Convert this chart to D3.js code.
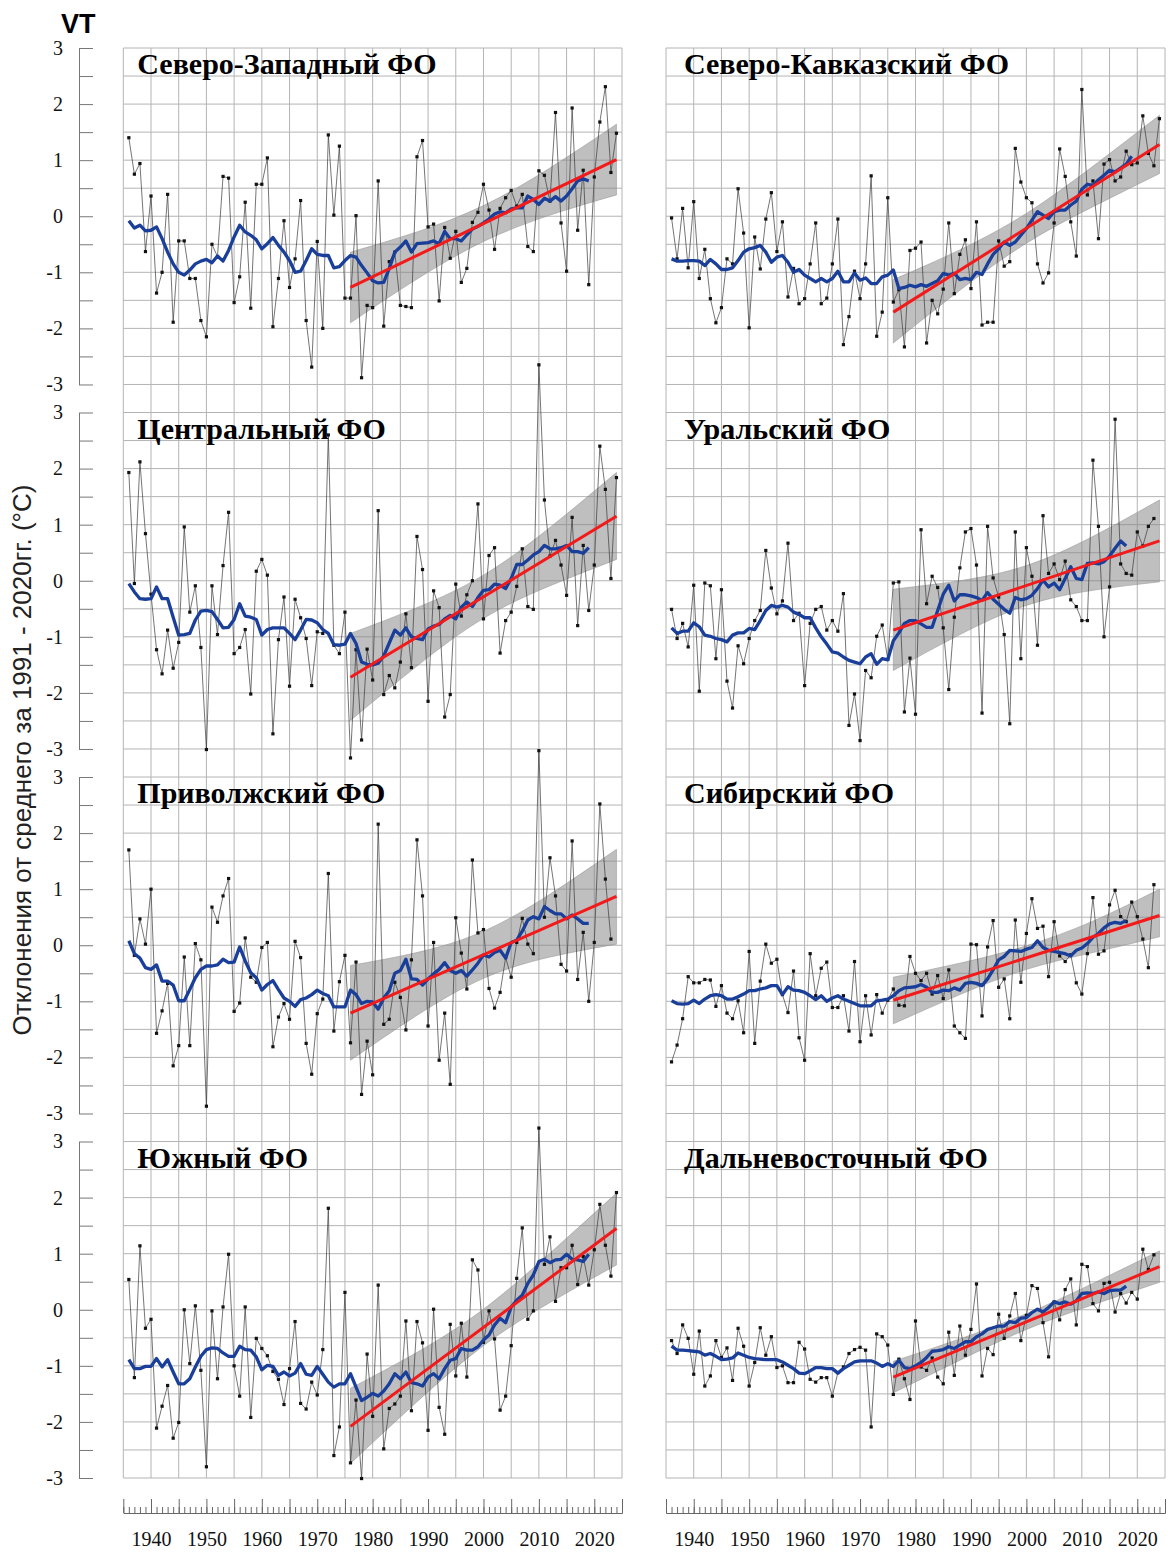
<!DOCTYPE html>
<html>
<head>
<meta charset="utf-8">
<script src="https://cdn.jsdelivr.net/npm/d3@7"></script>
<style>
  body { margin: 0; background: #fff; }
  svg { display: block; }
</style>
</head>
<body>
<svg id="chart" width="1172" height="1555"></svg>
<script>
// years of the annual series start here
var firstYear = 1936;
var trendYears = [1976, 2024];
var bandYears = [1976, 1988, 2000, 2012, 2024];
var yTicks = [-3, -2.5, -2, -1.5, -1, -0.5, 0, 0.5, 1, 1.5, 2, 2.5, 3];
var decadeLabels = [1940, 1950, 1960, 1970, 1980, 1990, 2000, 2010, 2020];

// Северо-Западный
var nwValues = [1.40, 0.75, 0.94, -0.63, 0.36, -1.37, -1.00, 0.39, -1.89, -0.44,
  -0.44, -1.11, -1.11, -1.86, -2.15, -0.50, -0.72, 0.71, 0.68, -1.54,
  -1.08, 0.25, -1.64, 0.57, 0.57, 1.04, -1.97, -1.11, -0.08, -1.27,
  -0.76, 0.28, -1.86, -2.69, -0.45, -2.00, 1.45, 0.02, 1.25, -1.46,
  -1.46, 0.01, -2.88, -1.59, -1.63, 0.63, -1.96, -0.81, -0.64, -1.59,
  -1.61, -1.63, 1.06, 1.35, -0.19, -0.14, -1.51, -0.20, -0.75, -0.27,
  -1.18, -0.93, -0.11, 0.07, 0.57, 0.11, -0.59, 0.14, 0.33, 0.46,
  0.18, 0.39, -0.54, -0.63, 0.81, 0.73, 0.27, 1.85, -0.12, -0.98,
  1.93, -0.25, 0.82, -1.22, 0.70, 1.68, 2.31, 0.78, 1.48];
var nwSmooth = [-0.08, -0.21, -0.16, -0.26, -0.25, -0.19, -0.40, -0.64, -0.85, -1.00,
  -1.05, -0.96, -0.85, -0.80, -0.77, -0.83, -0.71, -0.80, -0.61, -0.37,
  -0.16, -0.28, -0.34, -0.42, -0.58, -0.49, -0.38, -0.52, -0.64, -0.79,
  -1.00, -0.98, -0.79, -0.58, -0.68, -0.70, -0.70, -0.92, -0.90, -0.79,
  -0.70, -0.73, -0.88, -1.01, -1.15, -1.19, -1.18, -0.93, -0.64, -0.55,
  -0.44, -0.64, -0.49, -0.48, -0.47, -0.44, -0.49, -0.27, -0.40, -0.40,
  -0.44, -0.33, -0.23, -0.18, -0.12, -0.05, 0.04, 0.08, 0.06, 0.13,
  0.15, 0.15, 0.36, 0.30, 0.21, 0.32, 0.27, 0.35, 0.27, 0.36,
  0.49, 0.63, 0.67, 0.63];
var nwTrend = [-1.27, 1.01];
var nwUpper = [-0.64, -0.28, 0.19, 0.86, 1.64];
var nwLower = [-1.90, -1.12, -0.45, 0.02, 0.38];

// Северо-Кавказский
var nkValues = [-0.03, -0.76, 0.14, -0.92, 0.26, -1.11, -0.59, -1.47, -1.90, -1.63,
  -0.76, -0.85, 0.49, -0.30, -1.99, -0.37, -0.94, -0.05, 0.42, -0.63,
  -0.10, -1.44, -0.93, -1.56, -1.47, -0.85, -0.12, -1.56, -1.46, -0.85,
  -0.05, -2.29, -1.79, -0.98, -1.47, -0.85, 0.72, -2.14, -1.71, 0.33,
  -1.53, -1.31, -2.33, -0.61, -0.57, -0.46, -2.26, -1.50, -1.74, -1.30,
  -0.12, -1.38, -0.68, -0.42, -1.29, -0.10, -1.94, -1.89, -1.89, -0.44,
  -0.89, -0.81, 1.21, 0.61, 0.33, 0.24, -0.85, -1.19, -1.01, -0.12,
  1.20, 0.71, -0.10, -0.71, 2.26, 0.38, 0.63, -0.40, 0.93, 1.01,
  0.63, 0.70, 1.16, 0.92, 0.95, 1.79, 1.12, 0.90, 1.74];
var nkSmooth = [-0.76, -0.80, -0.80, -0.79, -0.79, -0.80, -0.88, -0.77, -0.85, -0.95,
  -0.95, -0.92, -0.79, -0.64, -0.58, -0.56, -0.52, -0.64, -0.82, -0.73,
  -0.70, -0.82, -1.00, -0.95, -1.05, -1.11, -1.17, -1.11, -1.17, -1.11,
  -0.98, -1.17, -1.17, -1.01, -1.14, -1.10, -1.20, -1.20, -1.08, -1.05,
  -0.96, -1.29, -1.27, -1.23, -1.26, -1.22, -1.25, -1.20, -1.15, -1.02,
  -1.05, -1.02, -1.13, -1.11, -1.13, -1.00, -1.04, -0.85, -0.68, -0.58,
  -0.46, -0.52, -0.46, -0.34, -0.22, -0.07, 0.08, 0.02, -0.04, 0.08,
  0.11, 0.11, 0.20, 0.27, 0.48, 0.57, 0.55, 0.65, 0.73, 0.82,
  0.79, 0.86, 0.93, 1.07];
var nkTrend = [-1.71, 1.28];
var nkUpper = [-1.13, -0.60, 0.05, 0.89, 1.80];
var nkLower = [-2.26, -1.32, -0.48, 0.17, 0.76];

// Центральный
var cfValues = [1.93, -0.05, 2.12, 0.84, -0.24, -1.23, -1.66, -0.88, -1.56, -1.10,
  0.96, -0.56, -0.09, -1.19, -3.01, -0.09, -0.96, 0.27, 1.22, -1.30,
  -1.19, -0.87, -2.02, 0.17, 0.38, 0.10, -2.73, -1.05, -0.29, -1.88,
  -0.33, -0.66, -1.03, -1.87, -0.91, -0.94, 2.60, -1.15, -1.30, -0.56,
  -3.16, -1.23, -2.84, -1.22, -1.77, 1.25, -2.03, -1.69, -1.91, -1.45,
  -0.59, -1.55, 0.79, 0.20, -2.15, -0.18, -0.48, -2.43, -2.03, -0.06,
  -0.63, -0.25, 0.00, 1.37, -0.68, 0.45, 0.59, -1.29, -0.71, -0.56,
  -0.10, 0.57, -0.46, -0.51, 3.85, 1.44, 0.44, 0.72, 0.28, -0.26,
  1.13, -0.80, 0.63, -0.53, 0.28, 2.40, 1.63, 0.04, 1.84];
var cfSmooth = [-0.05, -0.20, -0.32, -0.33, -0.32, -0.11, -0.32, -0.32, -0.65, -0.97,
  -0.96, -0.94, -0.70, -0.54, -0.53, -0.55, -0.69, -0.84, -0.83, -0.69,
  -0.41, -0.63, -0.65, -0.69, -0.97, -0.87, -0.84, -0.84, -0.84, -0.94,
  -1.05, -0.88, -0.69, -0.70, -0.75, -0.87, -0.94, -1.14, -1.15, -1.13,
  -0.94, -1.12, -1.45, -1.49, -1.50, -1.47, -1.34, -1.11, -0.88, -0.97,
  -0.84, -1.00, -1.03, -1.05, -0.86, -0.81, -0.78, -0.68, -0.62, -0.68,
  -0.47, -0.38, -0.46, -0.30, -0.17, -0.16, -0.06, -0.08, -0.14, 0.04,
  0.29, 0.29, 0.37, 0.46, 0.52, 0.63, 0.57, 0.57, 0.59, 0.63,
  0.52, 0.52, 0.49, 0.59];
var cfTrend = [-1.72, 1.15];
var cfUpper = [-0.94, -0.48, 0.10, 0.95, 1.93];
var cfLower = [-2.49, -1.52, -0.67, -0.09, 0.38];

// Уральский
var urValues = [-0.51, -1.03, -0.76, -1.18, -0.08, -1.97, -0.04, -0.09, -1.39, -0.16,
  -1.79, -2.27, -1.16, -1.48, -1.03, -0.71, -0.53, 0.54, -0.13, -0.59,
  -0.36, 0.67, -0.71, -0.58, -1.87, -0.76, -0.51, -0.46, -0.88, -0.71,
  -0.90, -0.23, -2.58, -2.02, -2.85, -1.60, -1.73, -0.99, -0.79, -1.40,
  -0.04, -0.02, -2.34, -1.38, -2.38, 0.91, -0.41, 0.08, -0.12, -0.84,
  -1.94, -0.65, 0.23, 0.87, 0.93, 0.28, -2.36, 0.97, 0.05, -0.29,
  -0.96, -2.55, 0.87, -1.39, 0.59, 0.08, -1.15, 1.16, 0.13, 0.30,
  0.02, 0.35, -0.34, -0.46, -0.71, -0.71, 2.15, 0.97, -1.00, -0.11,
  2.88, 0.30, 0.13, 0.10, 0.87, 0.62, 0.97, 1.11];
var urSmooth = [-0.84, -0.94, -0.90, -0.90, -0.75, -0.82, -0.97, -0.99, -1.03, -1.05,
  -1.09, -0.97, -0.93, -0.93, -0.85, -0.87, -0.71, -0.53, -0.44, -0.47,
  -0.44, -0.47, -0.56, -0.60, -0.66, -0.66, -0.84, -1.00, -1.13, -1.27,
  -1.29, -1.36, -1.42, -1.45, -1.48, -1.36, -1.30, -1.49, -1.39, -1.41,
  -1.07, -0.93, -0.76, -0.71, -0.71, -0.77, -0.83, -0.83, -0.53, -0.24,
  -0.08, -0.36, -0.25, -0.25, -0.27, -0.30, -0.35, -0.21, -0.33, -0.42,
  -0.51, -0.58, -0.30, -0.34, -0.32, -0.26, -0.14, 0.01, -0.11, -0.04,
  -0.16, 0.04, 0.25, 0.04, 0.02, 0.31, 0.32, 0.30, 0.34, 0.44,
  0.58, 0.71, 0.62];
var urTrend = [-0.88, 0.71];
var urUpper = [-0.15, 0.00, 0.27, 0.79, 1.44];
var urLower = [-1.60, -0.96, -0.44, -0.17, -0.02];

// Приволжский
var pvValues = [1.70, -0.18, 0.47, 0.02, 1.00, -1.57, -1.17, -0.68, -2.15, -1.79,
  -0.21, -1.79, 0.03, -0.26, -2.87, 0.68, 0.41, 0.88, 1.19, -1.18,
  -1.03, 0.13, -0.57, -0.66, -0.04, 0.05, -1.81, -1.28, -1.04, -1.32,
  0.07, -0.22, -1.75, -2.30, -1.22, -0.96, 1.28, -1.53, -0.65, -0.18,
  -1.74, -0.30, -2.66, -1.71, -2.31, 2.16, -1.41, -1.32, -0.66, -0.93,
  -1.51, -0.26, 1.88, 0.88, -1.44, 0.05, -2.05, -1.21, -2.48, 0.49,
  -0.14, -0.78, 1.52, 0.22, 0.28, -0.77, -1.12, -0.84, -0.22, -0.57,
  0.05, 0.48, 0.02, -0.15, 3.47, 0.50, 1.56, 0.88, -0.34, -0.46,
  1.86, -0.61, 0.23, -1.00, 0.05, 2.52, 1.18, 0.11];
var pvSmooth = [0.08, -0.15, -0.23, -0.40, -0.43, -0.35, -0.64, -0.64, -0.71, -0.99,
  -0.99, -0.79, -0.58, -0.43, -0.37, -0.37, -0.35, -0.25, -0.31, -0.30,
  -0.03, -0.28, -0.49, -0.58, -0.80, -0.70, -0.63, -0.79, -0.94, -1.00,
  -1.09, -0.97, -0.94, -0.88, -0.80, -0.86, -0.90, -1.10, -1.10, -1.10,
  -0.80, -0.88, -1.04, -1.00, -1.01, -1.14, -0.94, -0.81, -0.50, -0.45,
  -0.25, -0.60, -0.61, -0.71, -0.60, -0.51, -0.43, -0.31, -0.45, -0.50,
  -0.45, -0.55, -0.44, -0.32, -0.17, -0.21, -0.13, -0.09, -0.23, 0.05,
  0.09, 0.25, 0.45, 0.51, 0.47, 0.69, 0.62, 0.56, 0.56, 0.47,
  0.54, 0.47, 0.39, 0.39];
var pvTrend = [-1.21, 0.87];
var pvUpper = [-0.36, -0.13, 0.25, 0.91, 1.71];
var pvLower = [-2.05, -1.25, -0.59, -0.21, 0.02];

// Сибирский
var sbValues = [-2.08, -1.78, -1.31, -0.56, -0.67, -0.67, -0.61, -0.62, -1.09, -0.72,
  -1.21, -1.31, -0.99, -1.56, -0.11, -1.75, -0.64, 0.02, -0.32, -0.25,
  -0.88, -1.20, -0.46, -1.65, -2.05, -0.15, -0.90, -0.41, -0.30, -1.11,
  -1.11, -0.90, -1.53, -0.29, -1.72, -0.90, -1.60, -0.88, -1.21, -0.98,
  -0.78, -1.07, -1.08, -0.20, -0.50, -0.63, -0.50, -0.87, -0.54, -0.95,
  -0.44, -1.44, -1.56, -1.66, 0.02, 0.01, -1.26, -0.03, 0.44, -0.75,
  -0.60, -1.31, 0.45, -0.66, 0.21, 0.83, 0.30, 0.34, -0.56, 0.42,
  -0.19, -0.29, -0.17, -0.67, -0.87, -0.15, 0.85, -0.16, -0.10, 0.72,
  0.98, 0.51, 0.42, 0.77, 0.51, 0.11, -0.40, 1.08];
var sbSmooth = [-0.99, -1.04, -1.05, -1.04, -0.98, -1.04, -0.96, -0.90, -0.88, -0.90,
  -0.96, -0.96, -0.92, -0.87, -0.81, -0.81, -0.78, -0.76, -0.72, -0.72,
  -0.88, -0.74, -0.80, -0.81, -0.84, -0.90, -0.97, -0.90, -1.00, -0.94,
  -0.90, -0.96, -1.00, -1.04, -1.08, -1.08, -1.08, -0.99, -0.98, -0.96,
  -0.90, -0.81, -0.76, -0.75, -0.74, -0.70, -0.75, -0.84, -0.84, -0.80,
  -0.81, -0.76, -0.80, -0.68, -0.66, -0.68, -0.72, -0.60, -0.44, -0.26,
  -0.20, -0.09, -0.10, -0.11, -0.07, -0.04, 0.08, -0.04, -0.09, -0.11,
  -0.13, -0.15, -0.19, -0.09, -0.05, 0.03, 0.14, 0.21, 0.31, 0.38,
  0.41, 0.39, 0.44];
var sbTrend = [-0.98, 0.53];
var sbUpper = [-0.57, -0.32, -0.01, 0.43, 1.00];
var sbLower = [-1.40, -0.88, -0.43, -0.13, 0.15];

// Южный
var sfValues = [0.54, -1.21, 1.14, -0.33, -0.17, -2.11, -1.72, -1.35, -2.29, -2.01,
  0.00, -0.96, 0.07, -1.08, -2.80, -0.02, -1.23, 0.05, 0.99, -1.00,
  -1.54, 0.05, -1.92, -0.51, -0.69, -0.82, -1.10, -1.24, -1.69, -1.05,
  -0.21, -1.67, -1.77, -1.29, -1.52, -0.71, 1.81, -2.60, -2.09, 0.31,
  -2.73, -1.61, -3.01, -0.79, -1.90, 0.44, -2.48, -1.76, -1.68, -1.54,
  -0.20, -1.80, -0.21, -0.59, -2.15, 0.01, -1.74, -2.22, -0.26, -1.18,
  -0.24, -1.20, 0.89, 0.71, -0.58, -0.02, -0.52, -1.79, -1.54, -0.64,
  0.56, 1.46, -0.17, -0.02, 3.24, 0.81, 1.30, 0.15, 0.75, 0.75,
  1.15, 0.45, 0.95, 0.44, 1.07, 1.88, 1.15, 0.60, 2.09];
var sfSmooth = [-0.89, -1.05, -1.05, -1.01, -1.01, -0.87, -1.02, -0.89, -1.11, -1.32,
  -1.32, -1.23, -1.02, -0.83, -0.71, -0.68, -0.69, -0.77, -0.83, -0.83,
  -0.65, -0.71, -0.72, -0.84, -1.07, -0.99, -1.01, -1.17, -1.11, -1.18,
  -1.13, -0.96, -1.15, -1.17, -1.01, -1.15, -1.29, -1.38, -1.32, -1.32,
  -1.14, -1.38, -1.62, -1.56, -1.49, -1.54, -1.45, -1.32, -1.14, -1.23,
  -1.11, -1.30, -1.32, -1.36, -1.20, -1.14, -1.23, -1.05, -0.90, -0.87,
  -0.69, -0.72, -0.72, -0.66, -0.54, -0.45, -0.27, -0.15, -0.23, 0.05,
  0.17, 0.26, 0.47, 0.62, 0.86, 0.90, 0.84, 0.89, 0.90, 0.99,
  0.90, 0.89, 0.86, 0.99];
var sfTrend = [-2.08, 1.45];
var sfUpper = [-1.40, -0.76, 0.01, 1.01, 2.08];
var sfLower = [-2.74, -1.64, -0.64, 0.13, 0.80];

// Дальневосточный
var feValues = [-0.55, -0.78, -0.27, -0.51, -1.15, -0.38, -1.36, -1.18, -0.55, -0.85,
  -0.68, -1.26, -0.33, -0.65, -1.36, -0.94, -0.32, -0.81, -0.48, -1.03,
  -1.00, -1.30, -1.30, -0.58, -0.70, -1.24, -1.29, -1.21, -1.21, -1.54,
  -1.12, -1.02, -0.78, -0.71, -0.67, -0.72, -2.09, -0.43, -0.48, -0.63,
  -1.51, -0.88, -1.23, -1.60, -0.20, -1.02, -1.08, -0.86, -1.20, -1.32,
  -0.40, -1.17, -0.29, -0.81, -0.35, 0.46, -1.18, -0.69, -0.80, -0.08,
  -0.51, -0.11, 0.29, -0.55, -0.10, 0.43, 0.38, -0.23, -0.84, 0.14,
  -0.18, 0.36, 0.55, -0.27, 0.81, 0.77, 0.11, -0.02, 0.47, 0.49,
  -0.04, 0.29, 0.12, 0.31, 0.19, 1.08, 0.72, 0.98];
var feSmooth = [-0.65, -0.72, -0.72, -0.73, -0.74, -0.75, -0.81, -0.78, -0.83, -0.89,
  -0.88, -0.86, -0.77, -0.81, -0.85, -0.87, -0.88, -0.89, -0.89, -0.89,
  -0.93, -0.99, -1.05, -1.13, -1.14, -1.09, -1.03, -1.03, -1.05, -1.05,
  -1.13, -1.05, -0.99, -0.93, -0.91, -0.91, -0.91, -0.95, -1.01, -0.96,
  -1.01, -0.90, -1.03, -1.05, -1.00, -0.94, -0.85, -0.74, -0.73, -0.71,
  -0.66, -0.69, -0.63, -0.57, -0.57, -0.48, -0.43, -0.35, -0.32, -0.29,
  -0.29, -0.21, -0.23, -0.15, -0.14, -0.05, 0.01, -0.04, 0.04, 0.14,
  0.11, 0.14, 0.10, 0.16, 0.29, 0.30, 0.29, 0.32, 0.29, 0.34,
  0.35, 0.35, 0.42];
var feTrend = [-1.20, 0.77];
var feUpper = [-0.92, -0.52, -0.07, 0.47, 1.05];
var feLower = [-1.48, -0.90, -0.35, 0.09, 0.49];

var panels = [
  { title: "Северо-Западный ФО", col: 0, row: 0, values: nwValues, smooth: nwSmooth, trend: nwTrend, upper: nwUpper, lower: nwLower },
  { title: "Северо-Кавказский ФО", col: 1, row: 0, values: nkValues, smooth: nkSmooth, trend: nkTrend, upper: nkUpper, lower: nkLower },
  { title: "Центральный ФО", col: 0, row: 1, values: cfValues, smooth: cfSmooth, trend: cfTrend, upper: cfUpper, lower: cfLower },
  { title: "Уральский ФО", col: 1, row: 1, values: urValues, smooth: urSmooth, trend: urTrend, upper: urUpper, lower: urLower },
  { title: "Приволжский ФО", col: 0, row: 2, values: pvValues, smooth: pvSmooth, trend: pvTrend, upper: pvUpper, lower: pvLower },
  { title: "Сибирский ФО", col: 1, row: 2, values: sbValues, smooth: sbSmooth, trend: sbTrend, upper: sbUpper, lower: sbLower },
  { title: "Южный ФО", col: 0, row: 3, values: sfValues, smooth: sfSmooth, trend: sfTrend, upper: sfUpper, lower: sfLower },
  { title: "Дальневосточный ФО", col: 1, row: 3, values: feValues, smooth: feSmooth, trend: feTrend, upper: feUpper, lower: feLower }
];

// layout
var gridTop = 48, gridBottom = 1478;
var cell = (gridBottom - gridTop) / 51;
var panelH = 12 * cell, panelStep = 13 * cell;
var colRange = [[123.3, 622], [666, 1165]];
var titleOffset = [14, 18];
var rulerY = 1513;
var serif = "'Liberation Serif', 'Times New Roman', serif";
var sans = "'Liberation Sans', Arial, sans-serif";

var svg = d3.select("#chart");
svg.append("rect").attr("width", 1172).attr("height", 1555).attr("fill", "#fff");

var xScales = colRange.map(r => d3.scaleLinear().domain([1935, 2025]).range(r));

// vertical grid + bottom ruler for each column
xScales.forEach(function (x) {
    svg.append("g").selectAll("line")
        .data(d3.range(1935, 2026, 5))
        .join("line")
        .attr("x1", d => x(d)).attr("x2", d => x(d))
        .attr("y1", gridTop).attr("y2", gridBottom)
        .attr("stroke", "#b4b4b4").attr("stroke-width", 1);

    var minor = svg.append("g")
        .attr("transform", `translate(0,${rulerY})`)
        .call(d3.axisBottom(x).tickValues(d3.range(1935, 2026)).tickSize(-6).tickSizeOuter(0).tickFormat(""));
    var major = svg.append("g")
        .attr("transform", `translate(0,${rulerY})`)
        .call(d3.axisBottom(x).tickValues(d3.range(1935, 2026, 5)).tickSize(-14).tickSizeOuter(0).tickPadding(19)
            .tickFormat(d => decadeLabels.includes(d) ? d : ""));
    [minor, major].forEach(g => {
        g.selectAll("line").attr("stroke", "#666");
        g.select(".domain").attr("stroke", "#666");
    });
    major.selectAll("text")
        .style("font-family", serif).style("font-size", "20px").attr("fill", "#111");
});

panels.forEach(function (p) {
    var x = xScales[p.col];
    var top = gridTop + p.row * panelStep;
    var y = d3.scaleLinear().domain([-3, 3]).range([top + panelH, top]);
    var g = svg.append("g");

    // horizontal grid
    g.append("g").selectAll("line")
        .data(yTicks)
        .join("line")
        .attr("x1", colRange[p.col][0]).attr("x2", colRange[p.col][1])
        .attr("y1", d => y(d)).attr("y2", d => y(d))
        .attr("stroke", "#b4b4b4").attr("stroke-width", 1);

    // left axis only on the left column
    if (p.col === 0) {
        var ax = svg.append("g")
            .attr("transform", "translate(79,0)")
            .call(d3.axisLeft(y).tickValues(yTicks).tickSizeInner(-14).tickSizeOuter(0).tickPadding(16)
                .tickFormat(d => Number.isInteger(d) ? String(d) : ""));
        ax.selectAll("line").attr("stroke", "#777");
        ax.select(".domain").attr("stroke", "#777");
        ax.selectAll("text")
            .style("font-family", serif).style("font-size", "20px").attr("fill", "#111");
    }

    // confidence band
    var band = bandYears.map((yr, i) => ({ year: yr, lo: p.lower[i], hi: p.upper[i] }));
    g.append("path")
        .datum(band)
        .attr("d", d3.area().x(d => x(d.year)).y0(d => y(d.lo)).y1(d => y(d.hi)).curve(d3.curveNatural))
        .attr("fill", "#858585").attr("fill-opacity", 0.52)
        .attr("stroke", "#999").attr("stroke-width", 0.6);

    // annual values
    var pts = p.values.map((v, i) => ({ year: firstYear + i, v: v }));
    g.append("path")
        .datum(pts)
        .attr("d", d3.line().x(d => x(d.year)).y(d => y(d.v)))
        .attr("fill", "none").attr("stroke", "#3a3a3a").attr("stroke-width", 0.7);
    g.append("g").selectAll("rect")
        .data(pts)
        .join("rect")
        .attr("x", d => x(d.year) - 1.6).attr("y", d => y(d.v) - 1.6)
        .attr("width", 3.2).attr("height", 3.2)
        .attr("fill", "#111");

    // moving average
    var sm = p.smooth.map((v, i) => ({ year: firstYear + i, v: v }));
    g.append("path")
        .datum(sm)
        .attr("d", d3.line().x(d => x(d.year)).y(d => y(d.v)))
        .attr("fill", "none").attr("stroke", "#1a3f9a").attr("stroke-width", 3.3)
        .attr("stroke-linejoin", "round");

    // linear trend
    var tr = trendYears.map((yr, i) => ({ year: yr, v: p.trend[i] }));
    g.append("path")
        .datum(tr)
        .attr("d", d3.line().x(d => x(d.year)).y(d => y(d.v)))
        .attr("fill", "none").attr("stroke", "#f21a1a").attr("stroke-width", 3);

    g.append("text")
        .attr("x", colRange[p.col][0] + titleOffset[p.col])
        .attr("y", top + 26)
        .attr("font-family", serif).attr("font-weight", "bold").attr("font-size", 30)
        .attr("fill", "#000")
        .text(p.title);
});

svg.append("text")
    .attr("x", 61).attr("y", 33)
    .attr("font-family", sans).attr("font-weight", "bold").attr("font-size", 27)
    .text("VT");

svg.append("text")
    .attr("transform", "translate(31,760) rotate(-90)")
    .attr("text-anchor", "middle")
    .attr("font-family", sans).attr("font-size", 26).attr("fill", "#222")
    .text("Отклонения от среднего за 1991 - 2020гг. (°C)");
</script>
</body>
</html>
